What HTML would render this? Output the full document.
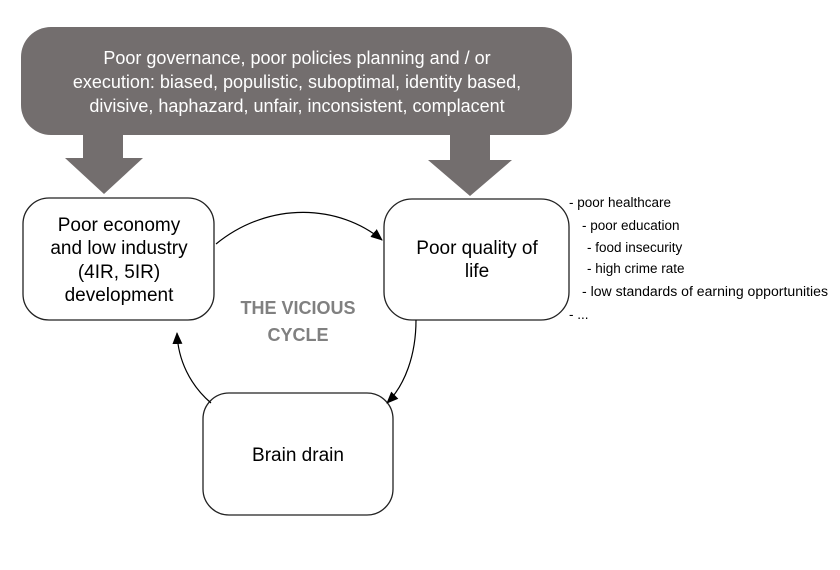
<!DOCTYPE html>
<html><head><meta charset="utf-8"><style>
html,body{margin:0;padding:0;background:#fff;}
svg{display:block;}
text{font-family:"Liberation Sans",Arial,sans-serif;}
</style></head><body>
<svg width="840" height="570" viewBox="0 0 840 570" xmlns="http://www.w3.org/2000/svg">
<defs>
<marker id="ah" markerWidth="12" markerHeight="10" refX="11" refY="5" orient="auto" markerUnits="userSpaceOnUse">
<path d="M0,0 L12,5 L0,10 Z" fill="#000"/>
</marker>
</defs>
<rect x="21" y="27" width="551" height="108" rx="30" fill="#736e6e"/>
<path d="M83,134 H123 V158 H143 L104,194 L65,158 H83 Z" fill="#736e6e"/>
<path d="M450,134 H490 V160 H512 L470,196 L428,160 H450 Z" fill="#736e6e"/>
<g fill="#fff" font-size="18" text-anchor="middle">
<text x="297" y="64">Poor governance, poor policies planning and / or</text>
<text x="297" y="88">execution: biased, populistic, suboptimal, identity based,</text>
<text x="297" y="112">divisive, haphazard, unfair, inconsistent, complacent</text>
</g>
<rect x="23" y="198" width="191" height="122" rx="26" fill="#fff" stroke="#222" stroke-width="1.3"/>
<rect x="384" y="199" width="185" height="121" rx="28" fill="#fff" stroke="#222" stroke-width="1.3"/>
<rect x="203" y="393" width="190" height="122" rx="26" fill="#fff" stroke="#222" stroke-width="1.3"/>
<g fill="#000" font-size="19" text-anchor="middle">
<text x="119" y="231">Poor economy</text>
<text x="119" y="254">and low industry</text>
<text x="119" y="278">(4IR, 5IR)</text>
<text x="119" y="301">development</text>
<text x="477" y="254">Poor quality of</text>
<text x="477" y="277">life</text>
<text x="298" y="461">Brain drain</text>
</g>
<g fill="#808080" font-size="18" font-weight="bold" text-anchor="middle">
<text x="298" y="314">THE VICIOUS</text>
<text x="298" y="341">CYCLE</text>
</g>
<path d="M216,244 C270,200 340,205 382,240" fill="none" stroke="#000" stroke-width="1.2" marker-end="url(#ah)"/>
<path d="M416,320 C416,355 405,385 387,403" fill="none" stroke="#000" stroke-width="1.2" marker-end="url(#ah)"/>
<path d="M211,403 C190,385 178,360 177,333" fill="none" stroke="#000" stroke-width="1.2" marker-end="url(#ah)"/>
<g fill="#000" font-size="13.5">
<text x="569" y="207">- poor healthcare</text>
<text x="582" y="230">- poor education</text>
<text x="587" y="252">- food insecurity</text>
<text x="587" y="273">- high crime rate</text>
<text x="582" y="296" textLength="246" lengthAdjust="spacingAndGlyphs">- low standards of earning opportunities</text>
<text x="569" y="319">- ...</text>
</g>
</svg>
</body></html>
